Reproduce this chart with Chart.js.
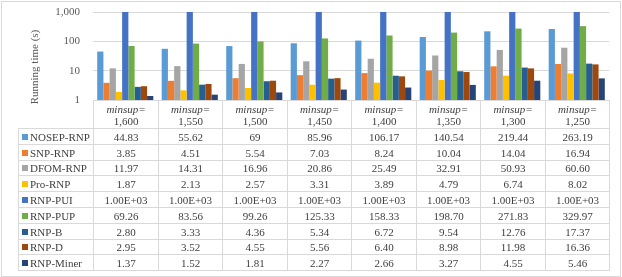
<!DOCTYPE html>
<html><head><meta charset="utf-8">
<script src="https://cdn.jsdelivr.net/npm/chart.js@4/dist/chart.umd.min.js"></script>
<style>
html,body{margin:0;padding:0;background:#fff;}
#wrap{position:relative;width:622px;height:277px;overflow:hidden;background:#fff;}
#frame{position:absolute;left:1px;top:1px;width:620px;height:276px;box-sizing:border-box;border:1px solid #d9d9d9;pointer-events:none;}
#c{position:absolute;left:0;top:0;}
.cell{position:absolute;box-sizing:border-box;display:flex;flex-direction:column;align-items:center;justify-content:center;
  font-family:"Liberation Serif","Times New Roman",serif;font-size:11px;color:#404040;line-height:12px;white-space:nowrap;}
.bl{border-left:1px solid #d9d9d9;} .bt{border-top:1px solid #d9d9d9;} .br{border-right:1px solid #d9d9d9;} .bb{border-bottom:1px solid #d9d9d9;}
.lab{align-items:flex-start;padding-left:3px;}
.lab span.sq{display:inline-block;width:6px;height:6px;margin-right:2px;vertical-align:middle;position:relative;top:-1px;}
.ital{font-style:italic;}
</style>
</head><body>
<div id="wrap">
  <canvas id="c" width="622" height="277"></canvas>
  <div id="frame"></div>
</div>
<script>
// ---- data ----
const categories = ['1,600','1,550','1,500','1,450','1,400','1,350','1,300','1,250'];
const categoryPrefix = 'minsup=';
const yTicks = [1, 10, 100, 1000];
const yTickLabels = ['1', '10', '100', '1,000'];
const yTitle = 'Running time (s)';

const seriesNames = ['NOSEP-RNP','SNP-RNP','DFOM-RNP','Pro-RNP','RNP-PUI','RNP-PUP','RNP-B','RNP-D','RNP-Miner'];
const NOSEP_RNP = [44.83, 55.62, 69, 85.96, 106.17, 140.54, 219.44, 263.19];
const SNP_RNP   = [3.85, 4.51, 5.54, 7.03, 8.24, 10.04, 14.04, 16.94];
const DFOM_RNP  = [11.97, 14.31, 16.96, 20.86, 25.49, 32.91, 50.93, 60.60];
const Pro_RNP   = [1.87, 2.13, 2.57, 3.31, 3.89, 4.79, 6.74, 8.02];
const RNP_PUI   = [1000, 1000, 1000, 1000, 1000, 1000, 1000, 1000];
const RNP_PUP   = [69.26, 83.56, 99.26, 125.33, 158.33, 198.70, 271.83, 329.97];
const RNP_B     = [2.80, 3.33, 4.36, 5.34, 6.72, 9.54, 12.76, 17.37];
const RNP_D     = [2.95, 3.52, 4.55, 5.56, 6.40, 8.98, 11.98, 16.36];
const RNP_Miner = [1.37, 1.52, 1.81, 2.27, 2.66, 3.27, 4.55, 5.46];
const seriesValues = [NOSEP_RNP, SNP_RNP, DFOM_RNP, Pro_RNP, RNP_PUI, RNP_PUP, RNP_B, RNP_D, RNP_Miner];
const seriesFormats = ['general','fixed2','fixed2','fixed2','exp','fixed2','fixed2','fixed2','fixed2'];
const seriesColors = ['#5B9BD5','#ED7D31','#A5A5A5','#FFC000','#4472C4','#70AD47','#255E91','#9E480E','#264478'];

function fmt(v, f){
  if (f === 'fixed2') return v.toFixed(2);
  if (f === 'exp'){
    const e = Math.floor(Math.log10(v));
    const m = (v / Math.pow(10, e)).toFixed(2);
    return m + 'E' + (e >= 0 ? '+' : '-') + String(Math.abs(e)).padStart(2,'0');
  }
  return String(v);
}

const FONT = '"Liberation Serif","Times New Roman",serif';
const HEADER_H = 28;
const ROW_H = 15.8;
const TABLE_LEFT = 18;

let built = false;
const tablePlugin = {
  id: 'dataTable',
  afterRender(chart){
    if (built) return; built = true;
    const a = chart.chartArea;
    const xs = chart.scales.x;
    const wrap = document.getElementById('wrap');
    const n = categories.length;
    const colEdges = [];
    for (let i = 0; i < n; i++){
      const c = xs.getPixelForValue(i);
      const half = (a.right - a.left) / n / 2;
      colEdges.push(Math.round(c - half));
    }
    colEdges.push(Math.round(a.right));
    const top0 = Math.round(a.bottom);
    function mk(x0, y0, x1, y1, cls, html){
      const d = document.createElement('div');
      d.className = 'cell ' + cls;
      d.style.left = x0 + 'px'; d.style.top = y0 + 'px';
      d.style.width = (x1 - x0 + (cls.indexOf('br')>=0?1:0)) + 'px';
      d.style.height = (y1 - y0 + (cls.indexOf('bb')>=0?1:0)) + 'px';
      d.innerHTML = html;
      wrap.insertBefore(d, document.getElementById('frame'));
    }
    // header row
    const hBottom = top0 + HEADER_H;
    for (let i = 0; i < n; i++){
      mk(colEdges[i], top0, colEdges[i+1], hBottom, 'bl bt' + (i === n-1 ? ' br' : ''),
        '<div class="ital">' + categoryPrefix + '</div><div>' + categories[i] + '</div>');
    }
    // data rows
    const nr = seriesNames.length;
    for (let r = 0; r < nr; r++){
      const y0 = Math.round(hBottom + r * ROW_H);
      const y1 = Math.round(hBottom + (r + 1) * ROW_H);
      const last = r === nr - 1 ? ' bb' : '';
      mk(TABLE_LEFT, y0, colEdges[0], y1, 'lab bl bt' + last,
        '<div><span class="sq" style="background:' + seriesColors[r] + '"></span>' + seriesNames[r] + '</div>');
      for (let i = 0; i < n; i++){
        mk(colEdges[i], y0, colEdges[i+1], y1, 'bl bt' + last + (i === n-1 ? ' br' : ''),
          fmt(seriesValues[r][i], seriesFormats[r]));
      }
    }
  }
};

const yTitlePlugin = {
  id: 'yTitle',
  afterDraw(chart){
    const a = chart.chartArea, ctx = chart.ctx;
    ctx.save();
    ctx.translate(35, (a.top + a.bottom) / 2 + 11);
    ctx.rotate(-Math.PI / 2);
    ctx.font = '11px ' + FONT;
    ctx.fillStyle = '#595959';
    ctx.textAlign = 'center';
    ctx.textBaseline = 'middle';
    ctx.fillText(yTitle, 0, 0);
    ctx.restore();
  }
};

new Chart(document.getElementById('c'), {
  type: 'bar',
  data: {
    labels: categories,
    datasets: seriesNames.map((name, k) => ({
      label: name,
      data: seriesValues[k],
      backgroundColor: seriesColors[k],
      borderWidth: 0,
      categoryPercentage: 0.87,
      barPercentage: 1.0
    }))
  },
  options: {
    responsive: false,
    animation: false,
    layout: { padding: { left: 18, top: 12, right: 13, bottom: 177 } },
    plugins: { legend: { display: false }, tooltip: { enabled: false } },
    scales: {
      x: { display: false, offset: true },
      y: {
        type: 'logarithmic',
        min: 1, max: 1000,
        afterBuildTicks(scale){ scale.ticks = yTicks.map(v => ({ value: v })); },
        afterFit(scale){ scale.width = 75; scale.paddingTop = 0; scale.paddingBottom = 0; },
        ticks: {
          callback(v){ const i = yTicks.indexOf(v); return i >= 0 ? yTickLabels[i] : ''; },
          font: { family: FONT, size: 11 },
          color: '#595959',
          padding: 13
        },
        grid: { color: '#d9d9d9', drawTicks: false, lineWidth: 1 },
        border: { display: false }
      }
    }
  },
  plugins: [tablePlugin, yTitlePlugin]
});
</script>
</body></html>
